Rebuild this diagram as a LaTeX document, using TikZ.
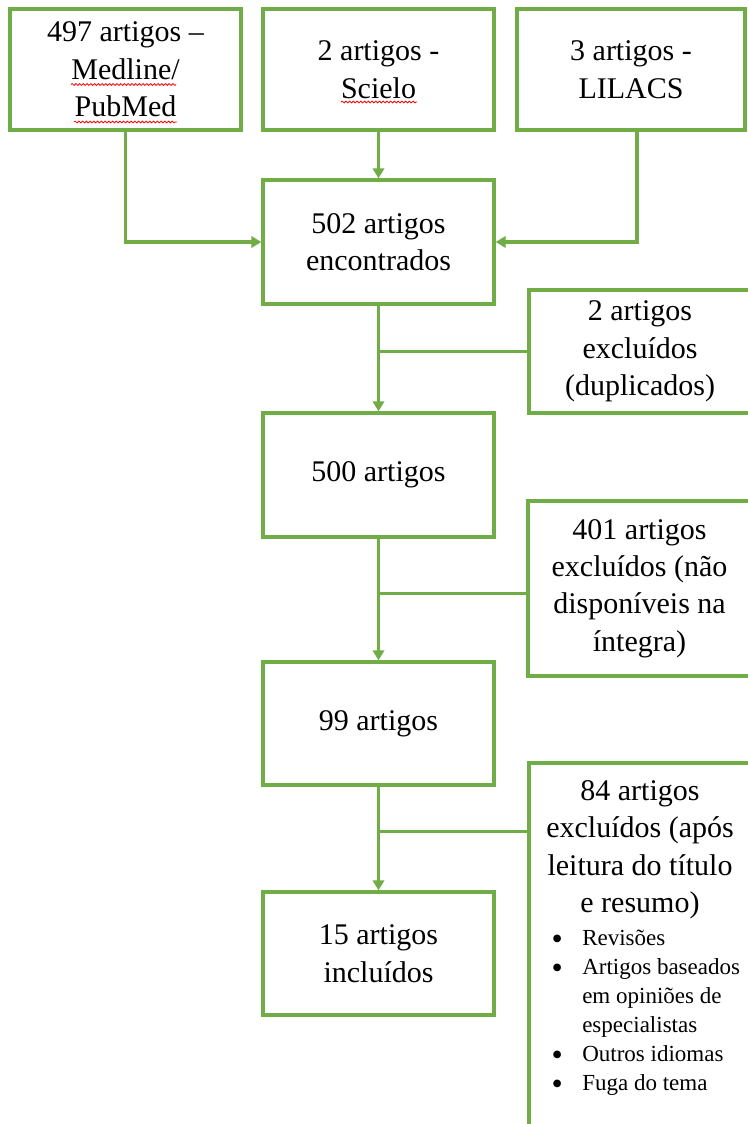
\documentclass[tikz,border=0pt]{standalone}
\usepackage{fontspec}
\setmainfont{Liberation Serif}
\usetikzlibrary{arrows.meta,decorations.pathmorphing}
\definecolor{boxgreen}{HTML}{70AD47}
\newcommand{\bul}{\makebox[24pt][l]{\hspace*{1pt}\raisebox{-3pt}{\fontsize{24}{24}\selectfont\textbullet}}}
\tikzset{
  box/.style={draw=boxgreen, line width=2.5pt, fill=white, align=center, inner sep=0pt,
    font=\fontsize{22.5}{28.1}\selectfont},
  link/.style={draw=boxgreen, line width=2.3pt},
  arrowlink/.style={link, -{Triangle[length=7.5pt,width=8.5pt]}},
  squig/.style={draw=red, line width=0.6pt, decorate,
    decoration={snake, amplitude=0.7pt, segment length=2.8pt}},
  freetext/.style={inner sep=0pt, text=black},
}
\begin{document}
\begin{tikzpicture}[x=0.75pt, y=-0.75pt]
\useasboundingbox (0,0) rectangle (748,1124);
\clip (0,0) rectangle (748,1124);

% top row
\node[box, minimum width=173.25pt, minimum height=90.75pt] (A) at (125.5,69.5) {497 artigos –\\Medline/\\PubMed};
\node[box, minimum width=173.25pt, minimum height=90.75pt] (B) at (378.5,69.5) {2 artigos -\\Scielo};
\node[box, minimum width=171pt, minimum height=90.75pt] (C) at (631,69.5) {3 artigos -\\LILACS};

% main column
\node[box, minimum width=173.25pt, minimum height=93pt] (D) at (378.5,242) {502 artigos\\encontrados};
\node[box, minimum width=173.25pt, minimum height=93pt] (F) at (378.5,475) {500 artigos};
\node[box, minimum width=173.25pt, minimum height=92.25pt] (H) at (378.5,723.5) {99 artigos};
\node[box, minimum width=173.25pt, minimum height=92.25pt] (J) at (378.5,953.5) {15 artigos\\incluídos};

% exclusion boxes (cut at the right edge)
\node[box, minimum width=166.5pt, minimum height=92.25pt] (E) at (640,351.5) {2 artigos\\excluídos\\(duplicados)};
\node[box, minimum width=167.25pt, minimum height=131.25pt] (G) at (639.5,588.5) {401 artigos\\excluídos (não\\disponíveis na\\íntegra)};
\node[box, minimum width=166.5pt, minimum height=282.75pt] (I) at (640,951.5) {};
\node[freetext, anchor=north, align=center, font=\fontsize{22.5}{28.1}\selectfont] (Ititle) at (640,773.3)
  {\rule{0pt}{20pt}84 artigos\\excluídos (após\\leitura do título\\e resumo)};
\node[freetext, anchor=north west, align=left, font=\fontsize{17.25}{21.75}\selectfont] (Ilist) at (550,918.3)
  {\rule{0pt}{20pt}\bul Revisões\\\bul Artigos baseados\\\hspace*{24pt}em opiniões de\\\hspace*{24pt}especialistas\\\bul Outros idiomas\\\bul Fuga do tema};

% connectors
\draw[arrowlink] (A.south) |- (D.west);
\draw[arrowlink] (B.south) -- (D.north);
\coordinate (c1) at ([xshift=4.5pt]C.south);
\draw[arrowlink] (c1) |- (D.east);

\draw[arrowlink] (D.south) -- (F.north);
\draw[link] (D.south |- E.west) -- (E.west);

\draw[arrowlink] (F.south) -- (H.north);
\coordinate (g1) at ([yshift=-3.4pt]G.west);
\draw[link] (F.south |- g1) -- (g1);

\draw[arrowlink] (H.south) -- (J.north);
\coordinate (i1) at ([yshift=-52.5pt]I.north west);
\draw[link] (H.south |- i1) -- (i1);

% spell-check squiggles
\draw[squig] (71,84.5) -- (176,84.5);
\draw[squig] (74,122) -- (177,122);
\draw[squig] (341,102) -- (417,102);
\end{tikzpicture}
\end{document}
